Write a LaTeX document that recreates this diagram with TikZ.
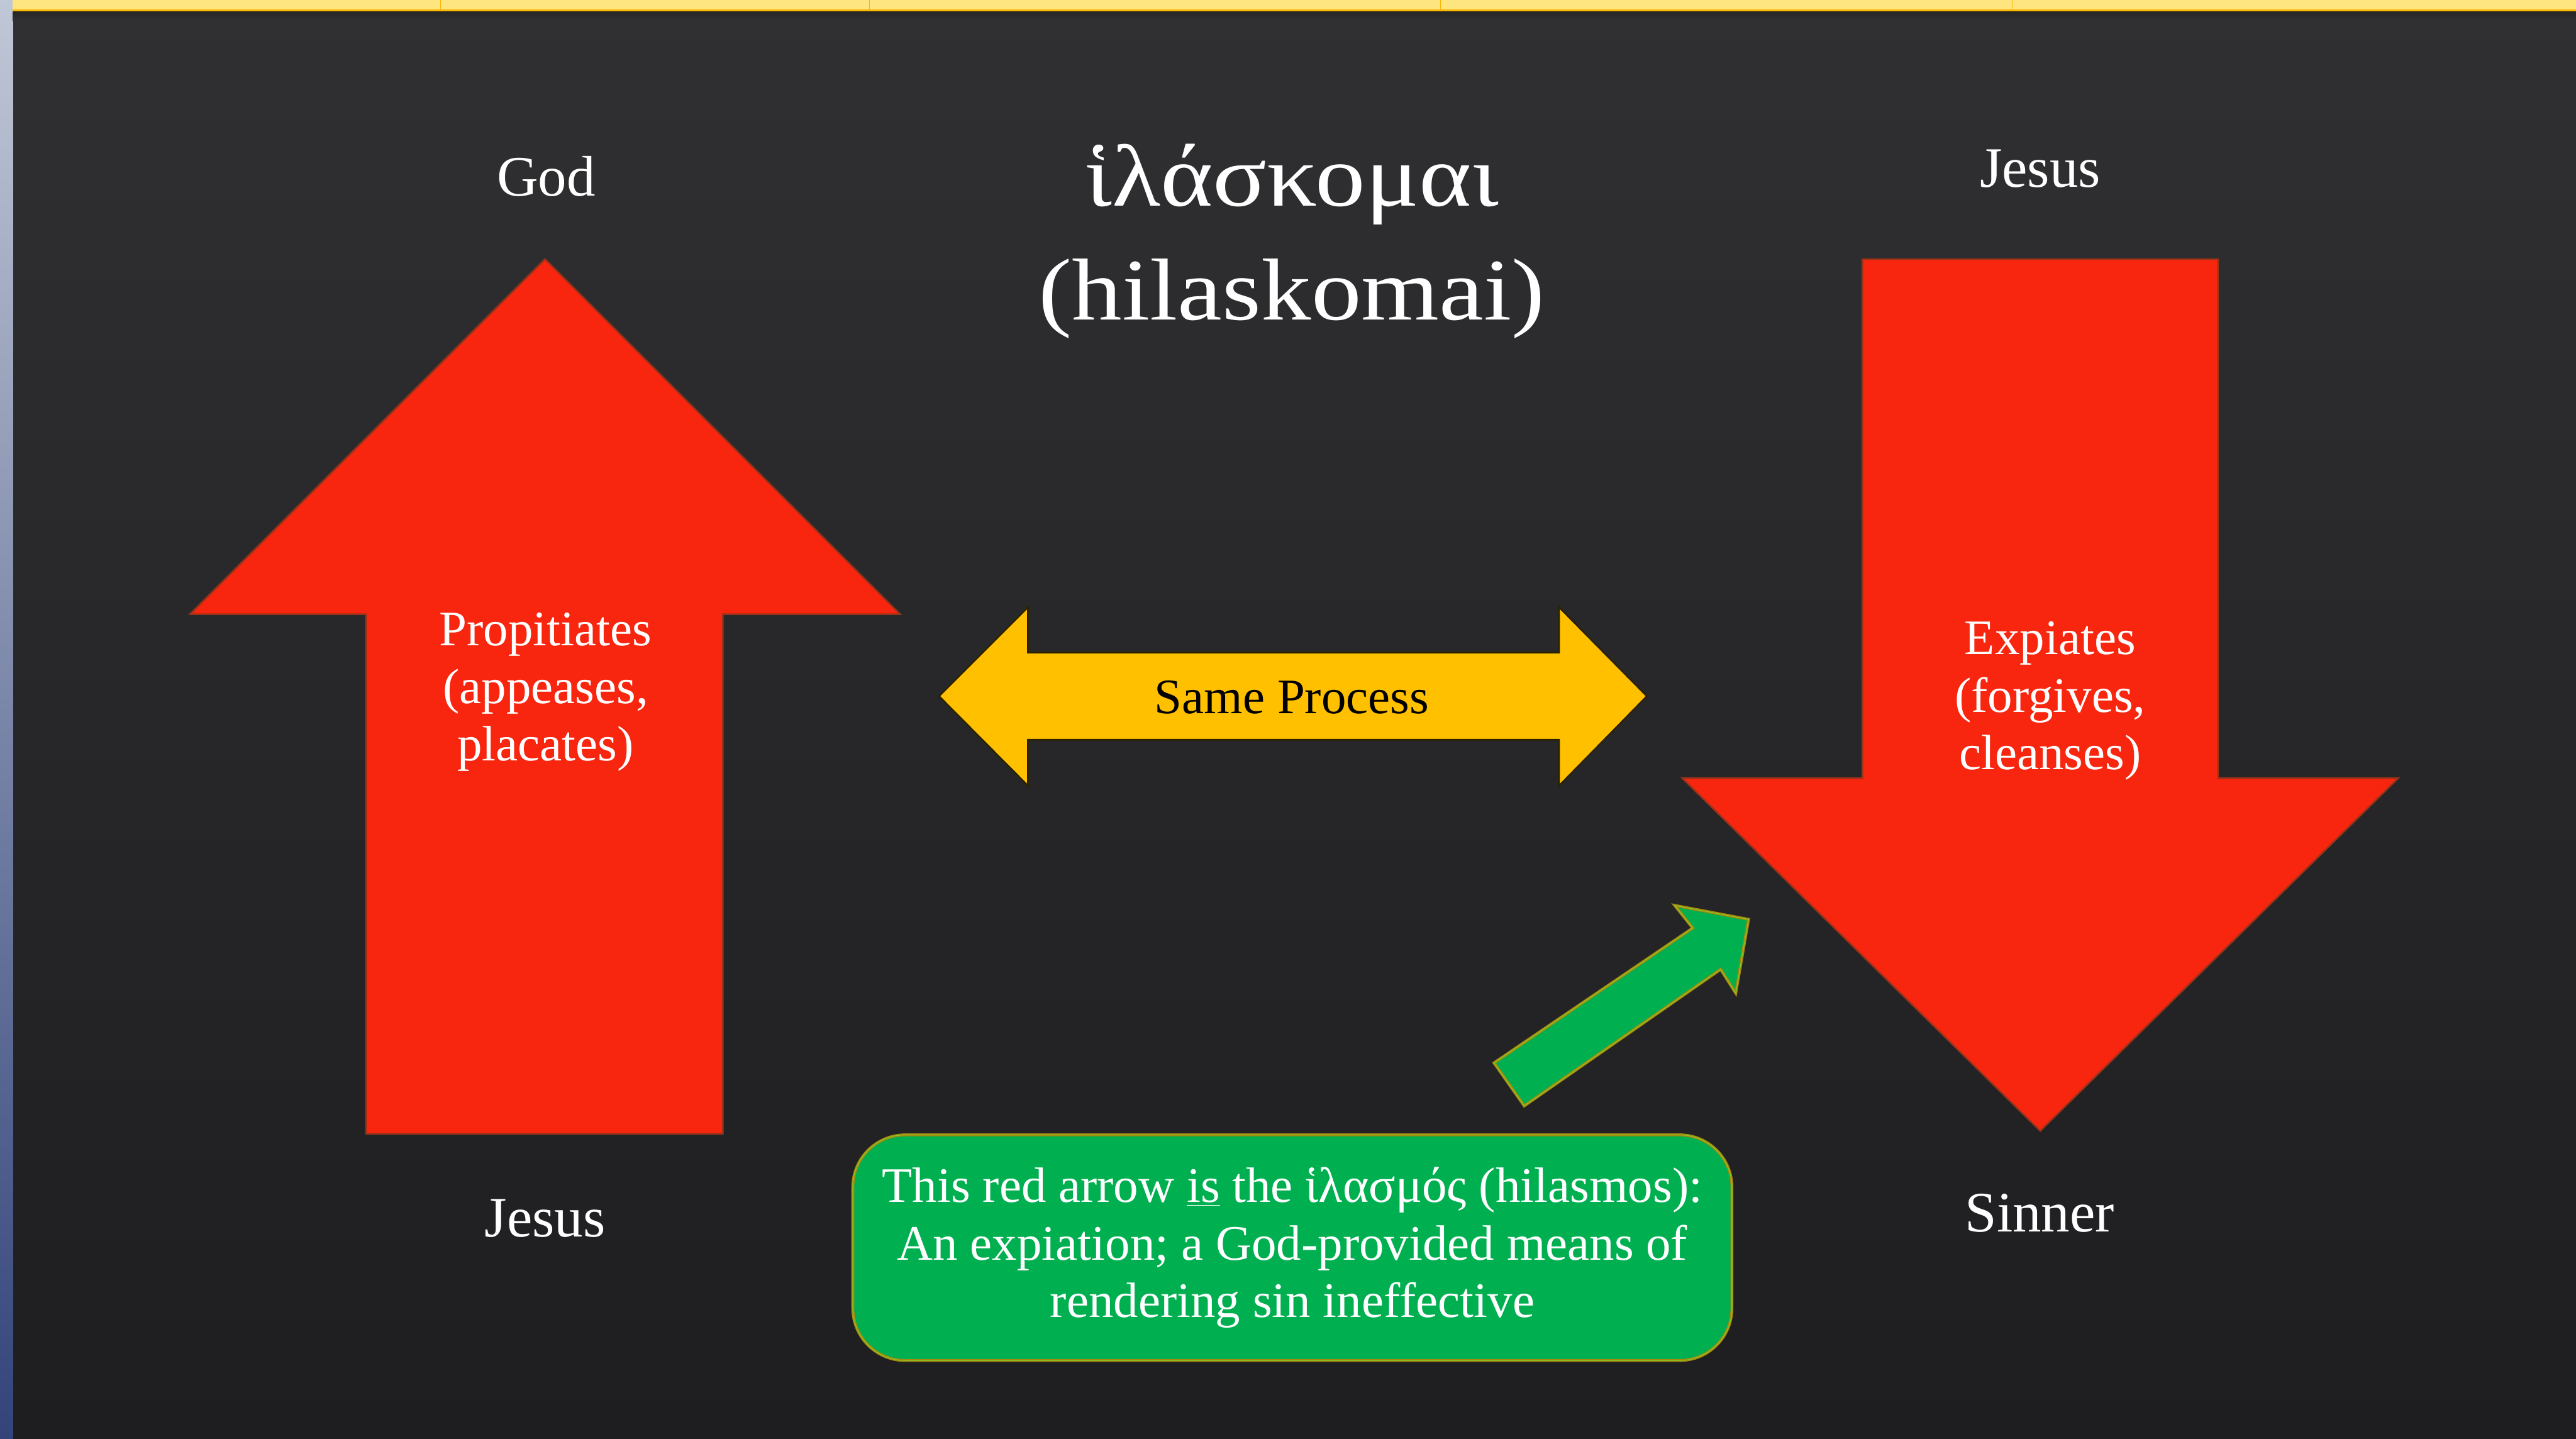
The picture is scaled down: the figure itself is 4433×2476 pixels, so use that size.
\documentclass[tikz,border=0pt]{standalone}
\usepackage{fontspec}
\setmainfont{Liberation Serif}
\newfontfamily\titlefont[FakeStretch=1.14]{Liberation Serif}
\definecolor{bgTop}{HTML}{303032}
\definecolor{bgBottom}{HTML}{1E1E20}
\definecolor{stripTop}{HTML}{C0C7D6}
\definecolor{stripBottom}{HTML}{33447A}
\definecolor{barYellow}{HTML}{FFE57F}
\definecolor{barOrange}{HTML}{F7B500}
\definecolor{arrowRed}{HTML}{F8250F}
\definecolor{arrowRedEdge}{HTML}{9A3318}
\definecolor{processYellow}{HTML}{FFC000}
\definecolor{processEdge}{HTML}{2A2200}
\definecolor{noteGreen}{HTML}{00B050}
\definecolor{noteEdge}{HTML}{A5870F}
\definecolor{noteInner}{HTML}{8DC21F}
\begin{document}
\begin{tikzpicture}
[x=0.01cm,y=-0.01cm,%
  redArrow/.style={fill=arrowRed,draw=arrowRedEdge,line width=0.8pt,line join=miter},%
  processArrow/.style={fill=processYellow,draw=processEdge,line width=0.8pt},%
  noteArrow/.style={fill=noteGreen,draw=noteEdge,line width=1.4pt,
    postaction={draw=noteInner,line width=0.4pt}},%
  noteBox/.style={rectangle,rounded corners=0.9cm,fill=noteGreen,draw=noteEdge,
    line width=1.4pt,postaction={draw=noteInner,line width=0.4pt},
    minimum width=15.12cm,minimum height=3.88cm,inner sep=0pt,
    text=white,align=center,font=\fontsize{24.3pt}{28.2pt}\selectfont},%
  nameLabel/.style={text=white,anchor=base,inner sep=0pt,font=\fontsize{28pt}{32pt}\selectfont},%
  arrowLabel/.style={text=white,align=center,inner sep=0pt,font=\fontsize{24.3pt}{28.2pt}\selectfont},%
  titleText/.style={text=white,align=center,inner sep=0pt,font=\titlefont\fontsize{43pt}{55.8pt}\selectfont}]
\useasboundingbox (0,0) rectangle (4433,2476);
%% slide background
\shade[top color=bgTop,bottom color=bgBottom] (0,0) rectangle (4433,2476);
\shade[top color=stripTop,bottom color=stripBottom] (0,0) rectangle (22,2476);
\fill[barYellow] (22,0) rectangle (4433,17);
\fill[barOrange] (22,16) rectangle (4433,20);
\foreach \xtab in {758,1496,2479,3463}
{
  \draw[barOrange,line width=0.3pt] (\xtab,0) -- (\xtab,17);
}
\shade[top color=black!85,bottom color=bgTop] (22,20) rectangle (4433,36);
%% block arrows
\draw[redArrow] (938,446) -- (1549,1057) -- (1244,1057) -- (1244,1951)
  -- (630,1951) -- (630,1057) -- (327,1057) -- cycle;
\draw[redArrow] (3205,446) -- (3817,446) -- (3817,1339) -- (4127,1339)
  -- (3511,1946) -- (2895,1339) -- (3205,1339) -- cycle;
\draw[processArrow] (1616,1198) -- (1769,1045) -- (1769,1123) -- (2683,1123)
  -- (2683,1045) -- (2834,1198) -- (2683,1352) -- (2683,1273)
  -- (1769,1273) -- (1769,1352) -- cycle;
\draw[noteArrow] (2571,1829) -- (2913,1597) -- (2882,1558) -- (3009,1582)
  -- (2987,1709) -- (2961,1668) -- (2623,1903) -- cycle;
%% texts
\node (titleWord) at (2223,415) [titleText] {ἱλάσκομαι\\(hilaskomai)};
\foreach \nodename/\x/\y/\word in {
  god/940/337/God, jesusTop/3511/322/Jesus, jesusBottom/938/2128/Jesus, sinner/3510/2120/Sinner}
{
  \node (\nodename) at (\x,\y) [nameLabel] {\word};
}
\node (propitiates) at (939,1191) [arrowLabel] {Propitiates\\(appeases,\\placates)};
\node (expiates) at (3528,1206) [arrowLabel] {Expiates\\(forgives,\\cleanses)};
\node (sameProcess) at (2223,1228) [arrowLabel,text=black,anchor=base] {Same Process};
\node (hilasmosNote) at (2224,2147) [noteBox]
  {This red arrow \underline{is} the ἱλασμός (hilasmos):\\An expiation; a God-provided means of\\rendering sin ineffective};
\end{tikzpicture}
\end{document}
